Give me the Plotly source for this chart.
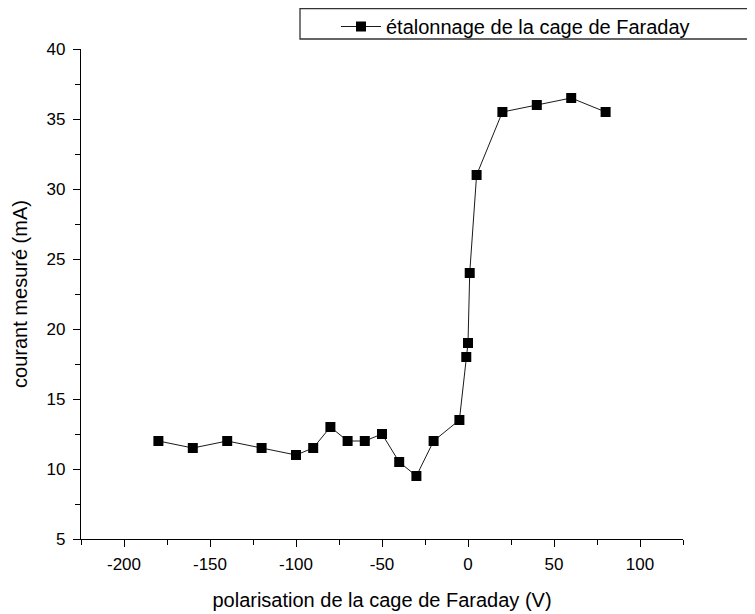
import plotly.graph_objects as go

polarisation = [-180, -160, -140, -120, -100, -90, -80, -70, -60, -50, -40, -30, -20,
                -5, -1, 0, 1, 5, 20, 40, 60, 80]
courant = [12, 11.5, 12, 11.5, 11, 11.5, 13, 12, 12, 12.5, 10.5, 9.5, 12,
           13.5, 18, 19, 24, 31, 35.5, 36, 36.5, 35.5]
x_ticks = [-200, -150, -100, -50, 0, 50, 100]
x_tick_labels = ["-200", "-150", "-100", "-50", "0", "50", "100"]
y_ticks = [5, 10, 15, 20, 25, 30, 35, 40]
series_name = "étalonnage de la cage de Faraday"

FONT = "Liberation Sans, Arial, sans-serif"

# page body has an 8px default margin: shift everything by it
OFF = 8
W, H = 755 - OFF, 614 - OFF
L, R, T, B = 81 - OFF, 72, 49 - OFF, 75
pw, ph = W - L - R, H - T - B


def px_x(p):
    return (p - OFF - L) / pw


def px_y(p):
    return (H - B - (p - OFF)) / ph


fig = go.Figure()
fig.add_trace(go.Scatter(
    x=polarisation, y=courant, mode="lines+markers", name=series_name,
    line=dict(color="#1a1a1a", width=1),
    marker=dict(symbol="square", size=10, color="black"),
    showlegend=True,
))

axis_common = dict(
    showline=True, linecolor="black", linewidth=1.3,
    ticks="outside", ticklen=7, tickwidth=1.3, tickcolor="black",
    showgrid=False, zeroline=False, mirror=False,
    tickfont=dict(family=FONT, size=17, color="black"),
)

fig.update_xaxes(
    range=[-225, 125], tickvals=x_ticks, ticktext=x_tick_labels,
    minor=dict(dtick=25, tick0=0, ticks="outside", ticklen=5, tickcolor="black", tickwidth=1.2),
    title=dict(text="polarisation de la cage de Faraday (V)",
               font=dict(family=FONT, size=20, color="black"), standoff=20),
    ticklabelstandoff=2,
    **axis_common,
)
fig.update_yaxes(
    range=[5, 40], tickvals=y_ticks,
    minor=dict(dtick=2.5, tick0=0, ticks="outside", ticklen=5, tickcolor="black", tickwidth=1.2),
    title=dict(text="courant mesuré (mA)",
               font=dict(family=FONT, size=20, color="black"), standoff=13),
    ticklabelstandoff=4,
    **axis_common,
)

fig.add_shape(type="rect", xref="paper", yref="paper",
              x0=px_x(300), x1=px_x(775), y0=px_y(39), y1=px_y(8.5),
              line=dict(color="#333", width=1.3), fillcolor="white", layer="above")

fig.update_layout(
    width=W, height=H,
    margin=dict(l=L, r=R, t=T, b=B, autoexpand=False),
    plot_bgcolor="white", paper_bgcolor="white",
    font=dict(family=FONT, color="black"),
    legend=dict(x=px_x(336), y=px_y(7), xanchor="left", yanchor="top",
                bgcolor="rgba(0,0,0,0)", borderwidth=0,
                font=dict(family=FONT, size=20, color="black"),
                itemwidth=40),
)

fig.write_html("out.html")
